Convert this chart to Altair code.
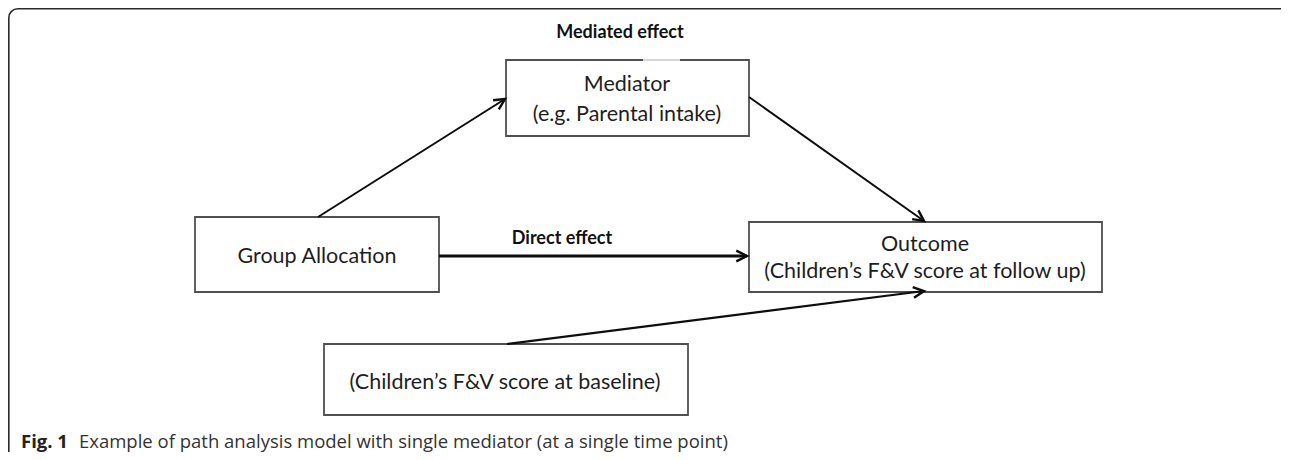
import altair as alt
import pandas as pd

# ---- diagram data (page coordinates, y downward) ----
box_names = ["Mediator", "Group Allocation", "Outcome", "Baseline"]
box_x0 = [506, 195, 749, 324]
box_x1 = [749, 439, 1102, 688]
box_y0 = [60, 217, 222, 344]
box_y1 = [136, 292, 292, 415]

label_text = ["Mediator", "(e.g. Parental intake)", "Group Allocation", "Outcome",
              "(Children\u2019s F&V score at follow up)", "(Children\u2019s F&V score at baseline)"]
label_x = [627, 627, 317, 925, 925, 505]
label_y = [85, 115, 257, 245, 272, 383]

effect_text = ["Mediated effect", "Direct effect"]
effect_x = [620, 562]
effect_y = [33, 239]

arrow_from = ["Group Allocation", "Mediator", "Group Allocation", "Baseline"]
arrow_to = ["Mediator", "Outcome", "Outcome", "Outcome"]
arrow_x0 = [318, 749, 439, 507]
arrow_y0 = [217, 97, 256, 344]
arrow_x1 = [505, 924, 747, 924]
arrow_y1 = [99, 221, 256, 291]
arrow_w = [2.0, 2.0, 2.8, 2.2]

caption_bold = "Fig. 1"
caption_rest = "Example of path analysis model with single mediator (at a single time point)"
caption_x = [21, 79]
caption_y = [442, 442]

boxes = pd.DataFrame({"name": box_names, "x0": box_x0, "x1": box_x1, "y0": box_y0, "y1": box_y1})
labels = pd.DataFrame({"text": label_text, "x": label_x, "y": label_y})
effects = pd.DataFrame({"text": effect_text, "x": effect_x, "y": effect_y})
arrows = pd.DataFrame({"src": arrow_from, "dst": arrow_to, "x0": arrow_x0, "y0": arrow_y0,
                       "x1": arrow_x1, "y1": arrow_y1, "w": arrow_w})
caps = pd.DataFrame({"text": [caption_bold, caption_rest], "x": caption_x, "y": caption_y,
                     "bold": [True, False]})

W, H = 1273, 444
xs = alt.Scale(domain=[8, 8 + W], nice=False, zero=False)
ys = alt.Scale(domain=[8, 8 + H], nice=False, zero=False, reverse=True)

FONT = "Lato"
CAP_FONT = "Open Sans"
INK = "#1e1e1e"

# decorative frame (runs off the right and bottom edges) and the faint gap on the mediator box's top edge
frame_df = pd.DataFrame({"x0": [8.8], "x1": [1290], "y0": [8.8], "y1": [462]})
gap_df = pd.DataFrame({"x0": [643], "x1": [680], "y0": [60]})

frame = alt.Chart(frame_df).mark_rect(
    fill=None, stroke="#2b2b2b", strokeWidth=1.6, cornerRadius=9, clip=True
).encode(
    x=alt.X("x0:Q", scale=xs, axis=None), x2="x1:Q",
    y=alt.Y("y0:Q", scale=ys, axis=None), y2="y1:Q",
)

rects = alt.Chart(boxes).mark_rect(
    fill="white", stroke="#505050", strokeWidth=1.8
).encode(
    x=alt.X("x0:Q", scale=xs, axis=None), x2="x1:Q",
    y=alt.Y("y0:Q", scale=ys, axis=None), y2="y1:Q",
)

gap = alt.Chart(gap_df).mark_rule(stroke="#d6d6d6", strokeWidth=2).encode(
    x=alt.X("x0:Q", scale=xs, axis=None), x2="x1:Q", y=alt.Y("y0:Q", scale=ys, axis=None)
)

box_text = alt.Chart(labels).mark_text(
    font=FONT, fontSize=21.5, color=INK, align="center", baseline="middle"
).encode(x=alt.X("x:Q", scale=xs, axis=None), y=alt.Y("y:Q", scale=ys, axis=None), text="text:N")

eff_text = alt.Chart(effects).mark_text(
    font=FONT, fontSize=18, fontWeight="bold", color="#111", align="center", baseline="middle"
).encode(x=alt.X("x:Q", scale=xs, axis=None), y=alt.Y("y:Q", scale=ys, axis=None), text="text:N")

cap_bold = alt.Chart(caps).transform_filter("datum.bold").mark_text(
    font=CAP_FONT, fontSize=18.5, fontWeight="bold", color="#222", align="left", baseline="middle"
).encode(x=alt.X("x:Q", scale=xs, axis=None), y=alt.Y("y:Q", scale=ys, axis=None), text="text:N")

cap_reg = alt.Chart(caps).transform_filter("!datum.bold").mark_text(
    font=CAP_FONT, fontSize=18.5, color="#333", align="left", baseline="middle"
).encode(x=alt.X("x:Q", scale=xs, axis=None), y=alt.Y("y:Q", scale=ys, axis=None), text="text:N")

shafts = alt.Chart(arrows).mark_rule(color="#0d0d0d").encode(
    x=alt.X("x0:Q", scale=xs, axis=None), x2="x1:Q",
    y=alt.Y("y0:Q", scale=ys, axis=None), y2="y1:Q",
    strokeWidth=alt.StrokeWidth("w:Q", scale=None, legend=None),
)

heads = alt.Chart(arrows).transform_calculate(
    ang="(atan2(datum.y1 - datum.y0, datum.x1 - datum.x0) * 180 / PI + 360) % 360"
).mark_point(
    shape="M-1,-0.5L0,0L-1,0.5", filled=False, color="#0d0d0d", size=460,
    strokeWidth=2.4, opacity=1, strokeJoin="miter", strokeCap="butt"
).encode(
    x=alt.X("x1:Q", scale=xs, axis=None), y=alt.Y("y1:Q", scale=ys, axis=None),
    angle=alt.Angle("ang:Q", scale=None),
)

chart = alt.layer(frame, rects, gap, shafts, heads, box_text, eff_text, cap_bold, cap_reg).properties(
    width=W, height=H, autosize=alt.AutoSizeParams(type="none"), padding=0, background="white"
).configure_view(stroke=None)

chart.save("out.html", embed_options={"renderer": "svg", "actions": False})
